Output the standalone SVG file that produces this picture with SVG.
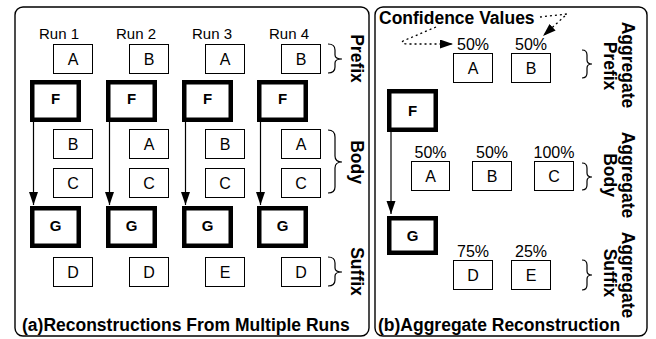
<svg xmlns="http://www.w3.org/2000/svg" width="656" height="339" viewBox="0 0 656 339">
  <style>
    .panel { fill: none; stroke: #000; stroke-width: 1.4; }
    .box { fill: #fff; stroke: #000; stroke-width: 1; }
    .tbox { fill: #fff; stroke: #000; stroke-width: 4.5; }
    .brace { fill: none; stroke: #000; stroke-width: 1.2; }
    .edge { fill: none; stroke: #000; stroke-width: 1.2; }
    .dot { fill: none; stroke: #000; stroke-width: 1.3; stroke-dasharray: 2 3; }
    text { font-family: "Liberation Sans", Arial, Helvetica, sans-serif; fill: #000; }
    .run { font-size: 15px; text-anchor: middle; }
    .t { font-size: 16px; text-anchor: middle; }
    .pct { font-size: 16px; text-anchor: middle; }
    .b { font-size: 15px; font-weight: bold; text-anchor: middle; }
    .cap { font-size: 17.5px; font-weight: bold; }
    .side { font-size: 17.5px; font-weight: bold; text-anchor: middle; }
  </style>
  <defs>
    <marker id="head" markerUnits="userSpaceOnUse" markerWidth="14" markerHeight="10" refX="13" refY="4.5" orient="auto">
      <path d="M0,0 L13,4.5 L0,9 Z" fill="#000"/>
    </marker>
  </defs>

  <!-- panel frames -->
  <rect class="panel" x="15" y="7" width="354" height="329" rx="8"/>
  <rect class="panel" x="375" y="7" width="272" height="329" rx="8"/>

  <!-- (a) runs -->
  <g id="run-labels">
    <text class="run" x="59" y="39">Run 1</text>
    <text class="run" x="136" y="39">Run 2</text>
    <text class="run" x="212" y="39">Run 3</text>
    <text class="run" x="289" y="39">Run 4</text>
  </g>

  <g id="run1-prefix-A"><rect class="box" x="53.5" y="44.5" width="39" height="29"/><text class="t" x="73" y="64.5">A</text></g>
  <g id="run2-prefix-B"><rect class="box" x="129.5" y="44.5" width="39" height="29"/><text class="t" x="149" y="64.5">B</text></g>
  <g id="run3-prefix-A"><rect class="box" x="205.5" y="44.5" width="39" height="29"/><text class="t" x="225" y="64.5">A</text></g>
  <g id="run4-prefix-B"><rect class="box" x="281.5" y="44.5" width="39" height="29"/><text class="t" x="301" y="64.5">B</text></g>

  <g id="run1-F"><rect class="tbox" x="32.25" y="82.25" width="46.5" height="37.5"/><text class="b" x="55.5" y="104">F</text></g>
  <g id="run2-F"><rect class="tbox" x="108.25" y="82.25" width="46.5" height="37.5"/><text class="b" x="131.5" y="104">F</text></g>
  <g id="run3-F"><rect class="tbox" x="184.25" y="82.25" width="46.5" height="37.5"/><text class="b" x="207.5" y="104">F</text></g>
  <g id="run4-F"><rect class="tbox" x="259.25" y="82.25" width="46.5" height="37.5"/><text class="b" x="282.5" y="104">F</text></g>

  <g id="run1-body-B"><rect class="box" x="53.5" y="129.5" width="39" height="29"/><text class="t" x="73" y="149.5">B</text></g>
  <g id="run2-body-A"><rect class="box" x="129.5" y="129.5" width="39" height="29"/><text class="t" x="149" y="149.5">A</text></g>
  <g id="run3-body-B"><rect class="box" x="205.5" y="129.5" width="39" height="29"/><text class="t" x="225" y="149.5">B</text></g>
  <g id="run4-body-A"><rect class="box" x="281.5" y="129.5" width="39" height="29"/><text class="t" x="301" y="149.5">A</text></g>

  <g id="run1-body-C"><rect class="box" x="53.5" y="168.5" width="39" height="29"/><text class="t" x="73" y="188.5">C</text></g>
  <g id="run2-body-C"><rect class="box" x="129.5" y="168.5" width="39" height="29"/><text class="t" x="149" y="188.5">C</text></g>
  <g id="run3-body-C"><rect class="box" x="205.5" y="168.5" width="39" height="29"/><text class="t" x="225" y="188.5">C</text></g>
  <g id="run4-body-C"><rect class="box" x="281.5" y="168.5" width="39" height="29"/><text class="t" x="301" y="188.5">C</text></g>

  <g id="run1-G"><rect class="tbox" x="32.25" y="208.25" width="46.5" height="37.5"/><text class="b" x="55.5" y="231">G</text></g>
  <g id="run2-G"><rect class="tbox" x="108.25" y="208.25" width="46.5" height="37.5"/><text class="b" x="131.5" y="231">G</text></g>
  <g id="run3-G"><rect class="tbox" x="184.25" y="208.25" width="46.5" height="37.5"/><text class="b" x="207.5" y="231">G</text></g>
  <g id="run4-G"><rect class="tbox" x="259.25" y="208.25" width="46.5" height="37.5"/><text class="b" x="282.5" y="231">G</text></g>

  <g id="run1-suffix-D"><rect class="box" x="53.5" y="257.5" width="39" height="29"/><text class="t" x="73" y="277.5">D</text></g>
  <g id="run2-suffix-D"><rect class="box" x="129.5" y="257.5" width="39" height="29"/><text class="t" x="149" y="277.5">D</text></g>
  <g id="run3-suffix-E"><rect class="box" x="205.5" y="257.5" width="39" height="29"/><text class="t" x="225" y="277.5">E</text></g>
  <g id="run4-suffix-D"><rect class="box" x="281.5" y="257.5" width="39" height="29"/><text class="t" x="301" y="277.5">D</text></g>

  <g id="run-section-labels">
    <path class="brace" d="M328,44 Q335,44 335,50 L335,55 Q335,59 342,59 Q335,59 335,63 L335,67 Q335,73 328,73"/>
    <path class="brace" d="M328,130 Q335,130 335,137 L335,156 Q335,162 342,162 Q335,162 335,168 L335,187 Q335,193 328,193"/>
    <path class="brace" d="M328,257 Q335,257 335,263 L335,268 Q335,272 342,272 Q335,272 335,276 L335,280 Q335,286 328,286"/>
    <text class="side" transform="translate(350.5,58.5) rotate(90)">Prefix</text>
    <text class="side" transform="translate(350.5,162) rotate(90)">Body</text>
    <text class="side" transform="translate(350.5,271.5) rotate(90)">Suffix</text>
  </g>

  <text class="cap" x="22" y="331">(a)Reconstructions From Multiple Runs</text>

  <!-- (b) aggregate -->
  <text class="cap" x="379" y="24">Confidence Values</text>

  <g id="agg-prefix-A"><text class="pct" x="473" y="50">50%</text><rect class="box" x="453.5" y="53.5" width="39" height="29"/><text class="t" x="473" y="73.5">A</text></g>
  <g id="agg-prefix-B"><text class="pct" x="531" y="50">50%</text><rect class="box" x="511.5" y="53.5" width="39" height="29"/><text class="t" x="531" y="73.5">B</text></g>

  <g id="agg-F"><rect class="tbox" x="389.25" y="91.25" width="46.5" height="38.5"/><text class="b" x="412.5" y="115.5">F</text></g>

  <g id="agg-body-A"><text class="pct" x="430.5" y="158">50%</text><rect class="box" x="411.5" y="161.5" width="38" height="29"/><text class="t" x="430.5" y="181.5">A</text></g>
  <g id="agg-body-B"><text class="pct" x="492" y="158">50%</text><rect class="box" x="472.5" y="161.5" width="39" height="29"/><text class="t" x="492" y="181.5">B</text></g>
  <g id="agg-body-C"><text class="pct" x="554" y="158">100%</text><rect class="box" x="534.5" y="161.5" width="39" height="29"/><text class="t" x="554" y="181.5">C</text></g>

  <g id="agg-G"><rect class="tbox" x="389.25" y="218.25" width="46.5" height="34.5"/><text class="b" x="412.5" y="241">G</text></g>

  <g id="agg-suffix-D"><text class="pct" x="473" y="257">75%</text><rect class="box" x="453.5" y="260.5" width="39" height="29"/><text class="t" x="473" y="280.5">D</text></g>
  <g id="agg-suffix-E"><text class="pct" x="531" y="257">25%</text><rect class="box" x="511.5" y="260.5" width="39" height="29"/><text class="t" x="531" y="280.5">E</text></g>

  <g id="agg-section-labels">
    <path class="brace" d="M582,50 Q587,50 587,55 L587,60 Q587,64 592,64 Q587,64 587,68 L587,73 Q587,78 582,78"/>
    <path class="brace" d="M582,163 Q587,163 587,168 L587,173 Q587,177 592,177 Q587,177 587,181 L587,185 Q587,190 582,190"/>
    <path class="brace" d="M582,260 Q587,260 587,265 L587,271 Q587,275 592,275 Q587,275 587,279 L587,285 Q587,290 582,290"/>
    <text class="side" transform="translate(622,65) rotate(90)">Aggregate</text>
    <text class="side" transform="translate(604,66) rotate(90)">Prefix</text>
    <text class="side" transform="translate(622,175) rotate(90)">Aggregate</text>
    <text class="side" transform="translate(604,175) rotate(90)">Body</text>
    <text class="side" transform="translate(622,275) rotate(90)">Aggregate</text>
    <text class="side" transform="translate(604,273) rotate(90)">Suffix</text>
  </g>

  <text class="cap" x="378" y="331">(b)Aggregate Reconstruction</text>

  <!-- connectors -->
  <g id="connectors">
    <line class="edge" x1="33.5" y1="122" x2="33.5" y2="205" marker-end="url(#head)"/>
    <line class="edge" x1="109.5" y1="122" x2="109.5" y2="205" marker-end="url(#head)"/>
    <line class="edge" x1="185.5" y1="122" x2="185.5" y2="205" marker-end="url(#head)"/>
    <line class="edge" x1="260.5" y1="122" x2="260.5" y2="205" marker-end="url(#head)"/>
    <line class="edge" x1="391" y1="132" x2="391" y2="214" marker-end="url(#head)"/>
    <path class="dot" d="M436,27 L403,41 Q400,44 410,44 L453,44" marker-end="url(#head)"/>
    <path class="dot" d="M540,17 L567,14 L543,36" marker-end="url(#head)"/>
  </g>
</svg>
